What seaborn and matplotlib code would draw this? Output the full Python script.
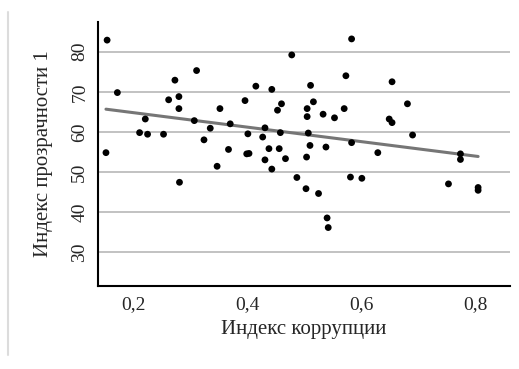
import matplotlib
matplotlib.use("Agg")
import matplotlib.pyplot as plt
import seaborn as sns
import pandas as pd
from matplotlib.lines import Line2D

corruption = [0.154, 0.172, 0.152, 0.221, 0.211, 0.225, 0.253, 0.273, 0.262, 0.280,
              0.280, 0.281, 0.311, 0.307, 0.324, 0.335, 0.352, 0.347, 0.367, 0.370,
              0.396, 0.401, 0.399, 0.403, 0.415, 0.427, 0.431, 0.438, 0.431, 0.443,
              0.443, 0.453, 0.460, 0.458, 0.456, 0.467, 0.478, 0.505, 0.505, 0.507,
              0.510, 0.504, 0.511, 0.516, 0.533, 0.553, 0.570, 0.573, 0.583, 0.538,
              0.583, 0.629, 0.487, 0.503, 0.525, 0.540, 0.542, 0.581, 0.601, 0.654,
              0.649, 0.654, 0.681, 0.690, 0.753, 0.774, 0.774, 0.805, 0.805]
transparency = [82.9, 69.8, 54.8, 63.2, 59.8, 59.4, 59.4, 72.9, 68.0, 68.8,
                65.8, 47.4, 75.3, 62.8, 58.0, 60.9, 65.8, 51.4, 55.6, 62.0,
                67.8, 59.5, 54.5, 54.6, 71.4, 58.7, 61.0, 55.8, 53.0, 50.7,
                70.6, 65.4, 67.0, 59.8, 55.8, 53.3, 79.2, 65.8, 63.8, 59.7,
                56.6, 53.7, 71.6, 67.5, 64.4, 63.5, 65.8, 74.0, 83.2, 56.2,
                57.3, 54.8, 48.6, 45.8, 44.6, 38.5, 36.1, 48.7, 48.4, 72.5,
                63.2, 62.3, 67.0, 59.2, 47.0, 54.5, 53.1, 46.1, 45.4]

x_ticks = [0.2, 0.4, 0.6, 0.8]
x_tick_labels = ["0,2", "0,4", "0,6", "0,8"]
y_ticks = [30, 40, 50, 60, 70, 80]
y_tick_labels = ["30", "40", "50", "60", "70", "80"]
x_label = "Индекс коррупции"
y_label = "Индекс прозрачности 1"

df = pd.DataFrame({"x": corruption, "y": transparency})

sns.set_style("white")
plt.rcParams["font.family"] = ["Liberation Serif", "DejaVu Serif"]

fig = plt.figure(figsize=(5.19, 3.69), dpi=100)
ax = fig.add_axes([0.1888, 0.2249, 0.7939, 0.7163])

for yt in y_ticks:
    ax.axhline(yt, color="#b8b8b8", lw=1.2, zorder=0)

sns.regplot(data=df, x="x", y="y", scatter=False, ci=None, ax=ax,
            line_kws={"color": "#767676", "lw": 2.2, "zorder": 2})
sns.scatterplot(data=df, x="x", y="y", ax=ax, color="black", s=24,
                edgecolor="none", zorder=3)

ax.set_xlim(0.138, 0.861)
ax.set_ylim(21.5, 87.5)
ax.set_xticks(x_ticks)
ax.set_xticklabels(x_tick_labels)
ax.set_yticks(y_ticks)
ax.set_yticklabels(y_tick_labels, rotation=90, va="center")
ax.set_xlabel(x_label, fontsize=15, labelpad=5)
ax.set_ylabel(y_label, fontsize=15, labelpad=13)
ax.tick_params(axis="both", labelsize=14, length=4, width=1.2, color="black",
               direction="out", pad=3)
for side in ["top", "right"]:
    ax.spines[side].set_visible(False)
for side in ["left", "bottom"]:
    ax.spines[side].set_color("black")
    ax.spines[side].set_linewidth(1.5)
ax.grid(False)

fig.add_artist(Line2D([8 / 519, 8 / 519], [1 - 12 / 369, 1 - 355 / 369],
                      transform=fig.transFigure, color="#dcdcdc", lw=1.5))

fig.savefig("out.png", dpi=100)
